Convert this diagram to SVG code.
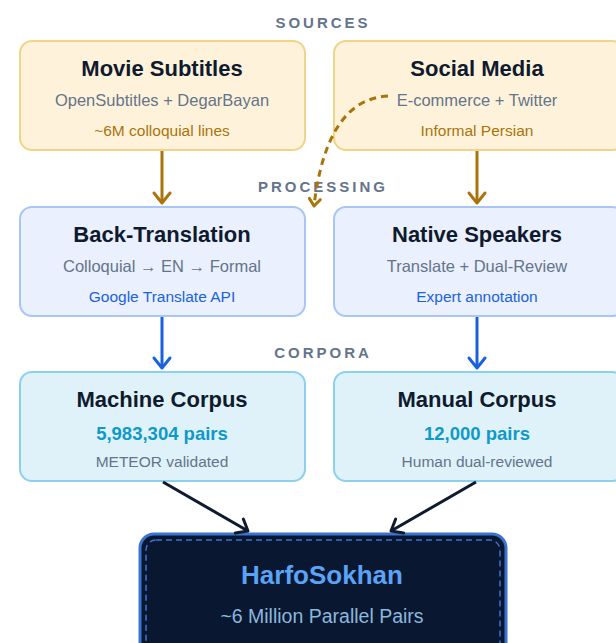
<svg xmlns="http://www.w3.org/2000/svg" width="616" height="643" viewBox="0 0 616 643">
  <defs>
    <style>
      text { font-family: "Liberation Sans", Arial, sans-serif; text-anchor: middle; }
      .sec { font-size: 15px; font-weight: bold; fill: #64748b; letter-spacing: 3px; }
      .title { font-size: 22px; font-weight: bold; fill: #0f1a2e; }
      .sub { font-size: 16.5px; fill: #64748b; }
      .gold { font-size: 15.5px; fill: #a9740c; }
      .blue { font-size: 15.5px; fill: #1a62dc; }
      .num { font-size: 18.5px; font-weight: bold; fill: #0e9ac8; }
      .small { font-size: 15.5px; fill: #64748b; }
      .src { fill: #fef3da; stroke: #f0d48a; stroke-width: 2; }
      .proc { fill: #eaf0fd; stroke: #a9c5f5; stroke-width: 2; }
      .corp { fill: #dff2f9; stroke: #8dd0ee; stroke-width: 2; }
      .c-gold { stroke: #a9740c; stroke-width: 3; fill: none; }
      .c-blue { stroke: #1a62dc; stroke-width: 3; fill: none; }
      .c-dark { stroke: #0f1a2e; stroke-width: 3; fill: none; }
      .head { fill: none; stroke-width: 3; stroke-linecap: round; stroke-linejoin: round; }
    </style>
    <marker id="ah-gold" viewBox="-13 -11 16 22" refX="0" refY="0" markerWidth="16" markerHeight="22" orient="auto" markerUnits="userSpaceOnUse">
      <path class="head" d="M-10 -8 L0 0 L-10 8" stroke="#a9740c"/>
    </marker>
    <marker id="ah-gold-sm" viewBox="-10 -8 12 16" refX="0" refY="0" markerWidth="12" markerHeight="16" orient="auto" markerUnits="userSpaceOnUse">
      <path class="head" d="M-7 -5.5 L0 0 L-7 5.5" stroke="#a9740c" stroke-width="2"/>
    </marker>
    <marker id="ah-blue" viewBox="-13 -11 16 22" refX="0" refY="0" markerWidth="16" markerHeight="22" orient="auto" markerUnits="userSpaceOnUse">
      <path class="head" d="M-10 -8 L0 0 L-10 8" stroke="#1a62dc"/>
    </marker>
    <marker id="ah-dark" viewBox="-13 -11 16 22" refX="0" refY="0" markerWidth="16" markerHeight="22" orient="auto" markerUnits="userSpaceOnUse">
      <path class="head" d="M-10 -8 L0 0 L-10 8" stroke="#0f1a2e"/>
    </marker>
  </defs>

  <rect width="616" height="643" fill="#ffffff"/>

  <!-- section labels -->
  <text class="sec" x="323" y="28">SOURCES</text>
  <text class="sec" x="323" y="192">PROCESSING</text>
  <text class="sec" x="323" y="358">CORPORA</text>

  <g id="movie-subtitles">
    <rect class="src" x="20" y="41" width="285" height="109" rx="12"/>
    <text class="title" x="162" y="76">Movie Subtitles</text>
    <text class="sub" x="162" y="106">OpenSubtitles + DegarBayan</text>
    <text class="gold" x="162" y="136">~6M colloquial lines</text>
  </g>

  <g id="social-media">
    <rect class="src" x="334" y="41" width="290" height="109" rx="12"/>
    <text class="title" x="477" y="76">Social Media</text>
    <text class="sub" x="477" y="106">E-commerce + Twitter</text>
    <text class="gold" x="477" y="136">Informal Persian</text>
  </g>

  <g id="back-translation">
    <rect class="proc" x="20" y="207" width="285" height="109" rx="12"/>
    <text class="title" x="162" y="242">Back-Translation</text>
    <text class="sub" x="162" y="272">Colloquial → EN → Formal</text>
    <text class="blue" x="162" y="302">Google Translate API</text>
  </g>

  <g id="native-speakers">
    <rect class="proc" x="334" y="207" width="290" height="109" rx="12"/>
    <text class="title" x="477" y="242">Native Speakers</text>
    <text class="sub" x="477" y="272">Translate + Dual-Review</text>
    <text class="blue" x="477" y="302">Expert annotation</text>
  </g>

  <g id="machine-corpus">
    <rect class="corp" x="20" y="372" width="285" height="109" rx="12"/>
    <text class="title" x="162" y="407">Machine Corpus</text>
    <text class="num" x="162" y="440">5,983,304 pairs</text>
    <text class="small" x="162" y="467">METEOR validated</text>
  </g>

  <g id="manual-corpus">
    <rect class="corp" x="334" y="372" width="290" height="109" rx="12"/>
    <text class="title" x="477" y="407">Manual Corpus</text>
    <text class="num" x="477" y="440">12,000 pairs</text>
    <text class="small" x="477" y="467">Human dual-reviewed</text>
  </g>

  <g id="harfosokhan">
    <rect x="140" y="534" width="366" height="130" rx="14" fill="#0a1730" stroke="#3b74d0" stroke-width="3"/>
    <rect x="146" y="540" width="354" height="118" rx="10" fill="none" stroke="#3b74d0" stroke-width="1.5" stroke-dasharray="6 4"/>
    <text x="322" y="584" font-size="26" font-weight="bold" fill="#5aa3f5">HarfoSokhan</text>
    <text x="322" y="623" font-size="19.5" fill="#8ab8de">~6 Million Parallel Pairs</text>
  </g>

  <!-- connectors, drawn last so the dashed link sits on top of the boxes -->
  <g id="connectors">
    <path class="c-gold" d="M162 151 L162 203" marker-end="url(#ah-gold)"/>
    <path class="c-gold" d="M477 151 L477 203" marker-end="url(#ah-gold)"/>
    <path class="c-gold" d="M388 96 C350 98 323 130 314 206" stroke-width="2" stroke-dasharray="7 5" marker-end="url(#ah-gold-sm)"/>
    <path class="c-blue" d="M162 317 L162 368" marker-end="url(#ah-blue)"/>
    <path class="c-blue" d="M477 317 L477 368" marker-end="url(#ah-blue)"/>
    <path class="c-dark" d="M163 482 L248 531" marker-end="url(#ah-dark)"/>
    <path class="c-dark" d="M476 482 L391 531" marker-end="url(#ah-dark)"/>
  </g>
</svg>
